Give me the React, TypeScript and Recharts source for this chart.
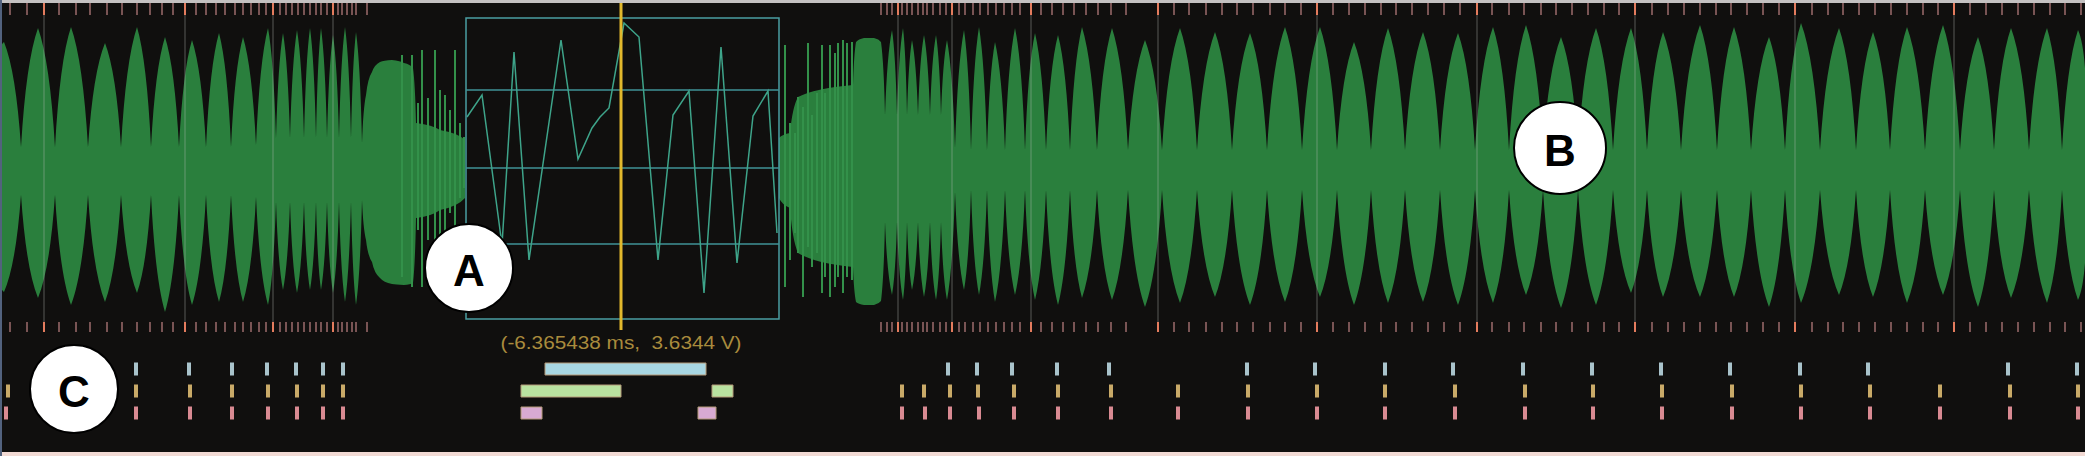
import React from "react";
import {
  ComposedChart,
  Area,
  Line,
  Scatter,
  XAxis,
  YAxis,
  ReferenceLine,
  ReferenceArea,
  ReferenceDot,
} from "recharts";

const W = 2085;
const H = 456;

// envelope of the capture: [sample, upper, lower] in ADC counts
const leftWave = [
  [0, 118, -117], [4, 126, -124], [21, 21, -27], [38, 140, -130], [55, 21, -27],
  [71, 141, -137], [88, 21, -27], [105, 125, -134], [121, 21, -27], [137, 141, -125],
  [151, 21, -27], [165, 131, -144], [179, 21, -27], [192, 128, -137], [206, 21, -27],
  [219, 135, -134], [231, 21, -27], [243, 131, -134], [256, 23, -29], [268, 140, -137],
  [276, 30, -34], [283, 135, -122], [290, 30, -34], [297, 138, -125], [304, 30, -34],
  [310, 140, -122], [316, 30, -34], [321, 140, -122], [327, 30, -34], [333, 133, -125],
  [339, 30, -34], [345, 141, -134], [351, 30, -34], [356, 136, -137], [362, 25, -32],
  [366, 73, -72], [372, 96, -94], [380, 106, -110], [392, 108, -116], [404, 105, -117],
  [413, 100, -115], [416, 45, -50], [440, 38, -42], [465, 28, -30],
];

const rightWave = [
  [779, 30, -30], [790, 35, -40], [798, 71, -85], [853, 83, -99], [856, 126, -134],
  [864, 130, -137], [874, 130, -137], [881, 126, -133], [885, 53, -54], [892, 138, -127],
  [897, 53, -54], [903, 140, -132], [907, 53, -54], [912, 128, -122], [918, 53, -54],
  [924, 133, -129], [930, 53, -54], [936, 133, -132], [941, 53, -54], [947, 128, -132],
  [955, 20, -24], [964, 138, -122], [971, 18, -22], [979, 141, -127], [987, 18, -22],
  [995, 126, -134], [1005, 18, -22], [1015, 140, -127], [1025, 18, -22], [1035, 135, -132],
  [1046, 18, -22], [1058, 133, -137], [1070, 18, -22], [1082, 141, -130], [1097, 18, -22],
  [1112, 140, -132], [1128, 18, -22], [1145, 128, -139], [1162, 18, -22], [1180, 140, -135],
  [1197, 18, -22], [1215, 136, -129], [1232, 18, -22], [1250, 135, -137], [1267, 18, -22],
  [1285, 141, -134], [1302, 18, -22], [1320, 141, -129], [1337, 18, -22], [1354, 126, -137],
  [1371, 18, -22], [1388, 140, -135], [1405, 18, -22], [1423, 136, -134], [1440, 18, -22],
  [1458, 135, -137], [1475, 18, -22], [1493, 141, -135], [1509, 18, -22], [1526, 143, -127],
  [1543, 18, -22], [1561, 131, -140], [1578, 18, -22], [1596, 140, -137], [1613, 18, -22],
  [1631, 140, -125], [1647, 18, -22], [1663, 136, -129], [1681, 18, -22], [1700, 143, -129],
  [1717, 18, -22], [1734, 141, -129], [1751, 18, -22], [1769, 131, -139], [1785, 18, -22],
  [1801, 145, -135], [1820, 18, -22], [1839, 140, -127], [1856, 18, -22], [1873, 136, -129],
  [1890, 18, -22], [1907, 141, -135], [1925, 18, -22], [1943, 143, -127], [1960, 18, -22],
  [1978, 131, -139], [1994, 18, -22], [2011, 140, -130], [2029, 18, -22], [2047, 140, -135],
  [2062, 18, -22], [2078, 138, -132], [2085, 100, -95],
];

// single samples standing out of the envelope
const spikes = [
  [402, 113, -109], [412, 113, -119], [418, 65, -62], [422, 118, -119], [428, 70, -72],
  [435, 118, -92], [440, 78, -119], [445, 73, -65], [450, 58, -45], [455, 118, -62],
  [460, 45, -30], [464, 31, -20],
  [785, 123, -119], [790, 45, -92], [795, 35, -65], [798, 71, -85], [803, 61, -129],
  [808, 125, -79], [812, 53, -99], [817, 75, -85], [822, 123, -125], [825, 75, -109],
  [830, 123, -129], [835, 115, -119], [838, 125, -109], [843, 128, -125], [847, 125, -109],
  [852, 126, -112],
];

// zoomed trace inside the window
const zoomTrace = [
  [467, 51], [482, 73], [502, -77], [514, 116], [529, -92], [561, 128], [578, 9],
  [592, 40], [600, 51], [609, 60], [624, 145], [639, 131], [658, -92], [673, 53],
  [689, 77], [704, -125], [721, 121], [737, -95], [753, 52], [768, 77], [777, -65],
];
const zoomGrid = [78, 0, -76];

const majorTicks = [44, 185, 273, 333, 898, 952, 1031, 1158, 1317, 1477, 1635, 1795, 1954];
const minorTicks = [
  10, 27, 59, 76, 90, 107, 122, 137, 150, 162, 173, 196, 206, 216, 225, 235, 243, 251,
  259, 266, 280, 286, 292, 298, 304, 310, 316, 321, 327, 338, 342, 347, 352, 356, 367,
  881, 887, 892, 902, 907, 912, 918, 923, 927, 933, 940, 946, 959, 965, 973, 980, 988,
  996, 1004, 1012, 1020, 1041, 1052, 1063, 1074, 1086, 1098, 1111, 1126, 1174, 1189,
  1206, 1222, 1237, 1253, 1270, 1285, 1301, 1333, 1349, 1365, 1381, 1396, 1412, 1428,
  1444, 1460, 1492, 1509, 1524, 1541, 1556, 1572, 1588, 1604, 1619, 1652, 1668, 1684,
  1700, 1716, 1731, 1747, 1763, 1779, 1812, 1828, 1843, 1859, 1875, 1891, 1907, 1923,
  1938, 1970, 1986, 2002, 2018, 2034, 2050, 2065, 2081,
];

// decoded events, one row per lane
const laneA = [136, 189, 232, 267, 296, 323, 343, 948, 977, 1012, 1057, 1109, 1247, 1315, 1385, 1453, 1523, 1592, 1661, 1730, 1800, 1868, 2008, 2077];
const laneB = [8, 136, 190, 232, 268, 297, 323, 343, 902, 924, 950, 978, 1014, 1058, 1111, 1178, 1248, 1317, 1385, 1455, 1525, 1593, 1662, 1732, 1801, 1870, 1940, 2010, 2078];
const laneC = [6, 136, 190, 232, 268, 297, 323, 343, 902, 925, 950, 979, 1014, 1058, 1111, 1178, 1248, 1317, 1385, 1455, 1525, 1593, 1662, 1732, 1801, 1870, 1940, 2010, 2078];
const laneSpans = [
  { lane: 0, start: 545, end: 706 },
  { lane: 1, start: 521, end: 621 },
  { lane: 1, start: 712, end: 733 },
  { lane: 2, start: 521, end: 542 },
  { lane: 2, start: 698, end: 716 },
];

const callouts = [
  { label: "A", x: 469, y: -100, r: 44 },
  { label: "B", x: 1560, y: 20, r: 46 },
  { label: "C", x: 74, y: -221, r: 44 },
];

const readout = "(-6.365438 ms,  3.6344 V)";
const cursorX = 621;

const LANE_LEVEL = [-201, -223, -245];
const LANE_COLOR = ["#a9c3cb", "#c9aa68", "#d98a92"];
const SPAN_COLOR = ["#a8d6e2", "#b9e2a0", "#d8aad2"];
const GREEN = "#2a7f3d";
// shoulder of a lobe side, as a share of the way from notch to tip
const SHOULDER_X = 0.3;
const SHOULDER_Y = 0.72;

// lobes: each segment is a quadratic that leaves the notch steeply and
// meets the tip at an angle, so beat lobes come out full and pointed
function lobeCurve(context: any) {
  let pts: number[][] = [];
  let line = NaN;
  return {
    areaStart() { line = 0; },
    areaEnd() { line = NaN; },
    lineStart() { pts = []; },
    point(x: number, y: number) { pts.push([x, y]); },
    lineEnd() {
      const lower = line === 1;
      pts.forEach(([x, y], i) => {
        if (i === 0) {
          if (line === 1) context.lineTo(x, y);
          else context.moveTo(x, y);
          return;
        }
        const [px, py] = pts[i - 1];
        const outer = lower ? y > py : y < py;
        const [ix, iy, ox, oy] = outer ? [px, py, x, y] : [x, y, px, py];
        const cx = ix + (ox - ix) * SHOULDER_X;
        const cy = iy + (oy - iy) * SHOULDER_Y;
        context.quadraticCurveTo(cx, cy, x, y);
      });
      if (line === 1) context.closePath();
      line = 1 - line;
    },
  };
}

const toRange = (rows: number[][]) => rows.map(([x, hi, lo]) => ({ x, range: [lo, hi] }));

export default function App() {
  const left = toRange(leftWave);
  const right = toRange(rightWave);
  const trace = zoomTrace.map(([x, v]) => ({ x, v }));
  const lanes = [laneA, laneB, laneC];

  return (
    <div
      style={{
        position: "absolute",
        left: 0,
        top: 0,
        width: W,
        height: H,
        background: "#100f0e",
        overflow: "hidden",
        fontFamily: "'Liberation Sans', Arial, sans-serif",
      }}
    >
      <ComposedChart width={W} height={H} margin={{ top: 0, right: 0, bottom: 0, left: 0 }}>
        <XAxis type="number" dataKey="x" domain={[0, W]} hide allowDataOverflow />
        <YAxis type="number" domain={[-288, 168]} hide allowDataOverflow />

        <Area data={left} dataKey="range" type={lobeCurve as any} fill={GREEN} fillOpacity={1} stroke="none" isAnimationActive={false} />
        <Area data={right} dataKey="range" type={lobeCurve as any} fill={GREEN} fillOpacity={1} stroke="none" isAnimationActive={false} />

        {spikes.map(([x, hi, lo], i) => (
          <ReferenceLine key={`s${i}`} segment={[{ x, y: hi }, { x, y: lo }]} stroke="#33914a" strokeWidth={2} />
        ))}

        {majorTicks.map((t) => (
          <ReferenceLine key={`g${t}`} segment={[{ x: t, y: 153 }, { x: t, y: -154 }]} stroke="#b4bcb4" strokeOpacity={0.22} strokeWidth={2} />
        ))}
        {minorTicks.map((t) => (
          <React.Fragment key={`m${t}`}>
            <ReferenceLine segment={[{ x: t, y: 165 }, { x: t, y: 153 }]} stroke="#9c6c6c" strokeWidth={1.5} />
            <ReferenceLine segment={[{ x: t, y: -154 }, { x: t, y: -164 }]} stroke="#9c6c6c" strokeWidth={1.5} />
          </React.Fragment>
        ))}
        {majorTicks.map((t) => (
          <React.Fragment key={`M${t}`}>
            <ReferenceLine segment={[{ x: t, y: 165 }, { x: t, y: 153 }]} stroke="#e47c5e" strokeWidth={2} />
            <ReferenceLine segment={[{ x: t, y: -154 }, { x: t, y: -164 }]} stroke="#e47c5e" strokeWidth={2} />
          </React.Fragment>
        ))}

        <ReferenceArea x1={466} x2={779} y1={-151} y2={150} fill="none" stroke="#4a9ea2" strokeWidth={1.5} />
        {zoomGrid.map((v) => (
          <ReferenceLine key={`z${v}`} segment={[{ x: 466, y: v }, { x: 779, y: v }]} stroke="#3f9397" strokeWidth={1.5} />
        ))}
        <Line data={trace} dataKey="v" type="linear" stroke="#3ea48a" strokeWidth={1.5} dot={false} isAnimationActive={false} />
        <ReferenceLine segment={[{ x: cursorX, y: 165 }, { x: cursorX, y: -162 }]} stroke="#e2b82c" strokeWidth={3} />
        <ReferenceDot
          x={cursorX}
          y={-175}
          r={1}
          shape={(p: any) => (
            <text
              x={p.cx}
              y={p.cy}
              textAnchor="middle"
              dominantBaseline="central"
              fontSize={18}
              fill="#a98b3d"
              textLength={241}
              lengthAdjust="spacingAndGlyphs"
              style={{ whiteSpace: "pre", fontFamily: "'Liberation Sans Narrow', 'Liberation Sans', Arial" }}
            >
              {readout}
            </text>
          )}
        />

        {laneSpans.map((s, i) => (
          <ReferenceArea
            key={`sp${i}`}
            x1={s.start}
            x2={s.end}
            y1={LANE_LEVEL[s.lane] - 6}
            y2={LANE_LEVEL[s.lane] + 6}
            fill={SPAN_COLOR[s.lane]}
            fillOpacity={1}
            stroke="#b49a78"
            strokeWidth={1}
          />
        ))}
        {lanes.map((row, li) => (
          <Scatter
            key={`l${li}`}
            data={row.map((x) => ({ x, y: LANE_LEVEL[li] }))}
            dataKey="y"
            isAnimationActive={false}
            shape={(p: any) => (
              <rect x={p.cx - 2} y={p.cy - 6.5} width={4} height={13} fill={LANE_COLOR[li]} />
            )}
          />
        ))}

        {callouts.map((c) => (
          <ReferenceDot
            key={c.label}
            x={c.x}
            y={c.y}
            r={c.r}
            shape={(p: any) => (
              <g>
                <circle cx={p.cx} cy={p.cy} r={c.r} fill="#ffffff" stroke="#000000" strokeWidth={2} />
                <text
                  x={p.cx}
                  y={p.cy + 2}
                  textAnchor="middle"
                  dominantBaseline="central"
                  fontSize={44}
                  fontWeight={700}
                  fill="#000000"
                  style={{ fontFamily: "'Liberation Sans', Arial" }}
                >
                  {c.label}
                </text>
              </g>
            )}
          />
        ))}
      </ComposedChart>
      <div style={{ position: "absolute", left: 0, top: 0, width: W, height: 3, background: "#c4c1c1" }} />
      <div style={{ position: "absolute", left: 0, bottom: 0, width: W, height: 4, background: "#f2dad4" }} />
      <div style={{ position: "absolute", left: 0, top: 0, width: 2, height: H, background: "#52627e" }} />
    </div>
  );
}
